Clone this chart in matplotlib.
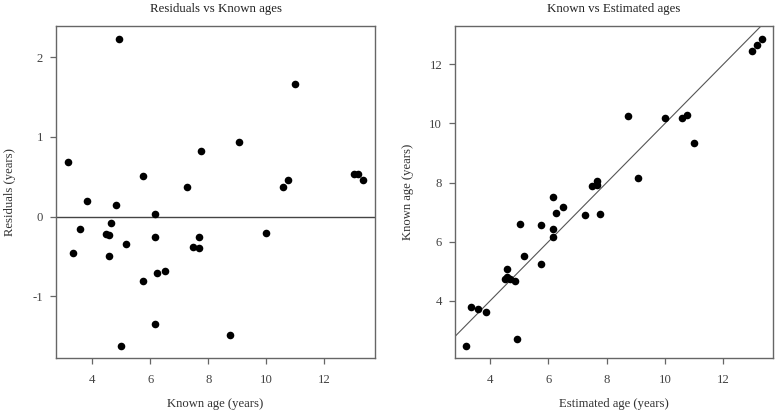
import numpy as np
import matplotlib
matplotlib.use("Agg")
import matplotlib.pyplot as plt

# estimated age, known age and residual for each fish
est = [3.17, 4.92, 10.99, 9.07, 7.76, 5.75, 7.26, 10.58, 10.74, 13.00, 13.17, 13.34,
       3.84, 4.84, 6.17, 3.59, 4.67, 4.49, 4.58, 3.34, 4.58, 5.17, 6.17, 7.67,
       7.49, 7.67, 10.0, 6.50, 6.25, 5.75, 6.17, 5.01, 8.74]
known = [2.48, 2.69, 9.35, 8.15, 6.94, 5.23, 6.89, 10.19, 10.29, 12.47, 12.66, 12.87,
         3.63, 4.67, 6.15, 3.71, 4.74, 4.72, 4.80, 3.79, 5.07, 5.51, 6.43, 7.90,
         7.88, 8.05, 10.19, 7.17, 6.96, 6.56, 7.50, 6.61, 10.25]
resid = [0.69, 2.23, 1.66, 0.94, 0.82, 0.51, 0.37, 0.37, 0.46, 0.53, 0.53, 0.46,
         0.20, 0.14, 0.03, -0.15, -0.08, -0.22, -0.23, -0.46, -0.49, -0.35, -0.26, -0.26,
         -0.38, -0.40, -0.21, -0.68, -0.71, -0.81, -1.35, -1.62, -1.49]

x_ticks = [4, 6, 8, 10, 12]
res_ticks = [-1, 0, 1, 2]
known_ticks = [4, 6, 8, 10, 12]

plt.rcParams['font.family'] = ['Liberation Serif', 'DejaVu Serif']
plt.rcParams['axes.unicode_minus'] = False

fig = plt.figure(figsize=(7.77, 4.16), dpi=100)
W, H = 777, 416

def make_ax(x0, x1, y0, y1):
    ax = fig.add_axes([x0 / W, 1 - y1 / H, (x1 - x0) / W, (y1 - y0) / H])
    for s in ax.spines.values():
        s.set_color('#666666')
        s.set_linewidth(1.0)
    ax.tick_params(direction='out', length=4.3, width=0.9, color='#666666',
                   labelcolor='#444444', labelsize=9.2)
    ax.tick_params(axis='x', pad=7.5)
    ax.tick_params(axis='y', pad=5)
    return ax

ax1 = make_ax(56, 375, 26, 357.7)
ax1.scatter(est, resid, s=30, color='black', linewidths=0, zorder=3)
ax1.axhline(0, color='#444444', lw=1.0)
ax1.set_xlim(2.76, 13.74)
ax1.set_ylim(-1.77, 2.39)
ax1.set_xticks(x_ticks)
ax1.set_yticks(res_ticks)
ax1.set_title('Residuals vs Known ages', y=1 + 17 / 331.7, va='center', pad=0,
              fontsize=9.3, color='#222222')
ax1.set_xlabel('Known age (years)', color='#333333', fontsize=9.1)
ax1.set_ylabel('Residuals (years)', color='#333333', fontsize=9.1)
ax1.xaxis.set_label_coords(0.5, -46.5 / 331.7)
ax1.xaxis.label.set_va('center')
ax1.yaxis.set_label_coords(-46 / 319, 0.5)
ax1.yaxis.label.set_va('center')

ax2 = make_ax(455, 773, 26, 357.7)
ax2.scatter(est, known, s=30, color='black', linewidths=0, zorder=3)
ax2.axline((0, 0), slope=1, color='#555555', lw=0.8)
ax2.set_xlim(2.79, 13.71)
ax2.set_ylim(2.07, 13.3)
ax2.set_xticks(x_ticks)
ax2.set_yticks(known_ticks)
ax2.set_title('Known vs Estimated ages', y=1 + 17 / 331.7, va='center', pad=0,
              fontsize=9.3, color='#222222')
ax2.set_xlabel('Estimated age (years)', color='#333333', fontsize=9.1)
ax2.set_ylabel('Known age (years)', color='#333333', fontsize=9.1)
ax2.xaxis.set_label_coords(0.5, -46.5 / 331.7)
ax2.xaxis.label.set_va('center')
ax2.yaxis.set_label_coords(-47 / 318, 0.5)
ax2.yaxis.label.set_va('center')

fig.savefig('out.png', dpi=100)
